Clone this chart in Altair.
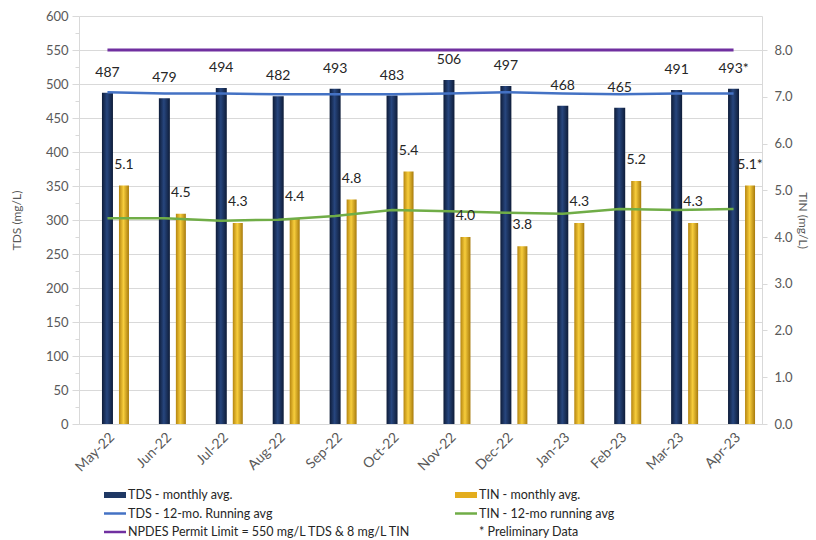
import altair as alt
import pandas as pd

# Monthly TDS / TIN results with 12-month running averages
months = ["May-22", "Jun-22", "Jul-22", "Aug-22", "Sep-22", "Oct-22",
          "Nov-22", "Dec-22", "Jan-23", "Feb-23", "Mar-23", "Apr-23"]
tds_monthly = [487, 479, 494, 482, 493, 483, 506, 497, 468, 465, 491, 493]
tin_monthly = [5.1, 4.5, 4.3, 4.4, 4.8, 5.4, 4.0, 3.8, 4.3, 5.2, 4.3, 5.1]
tds_running = [488, 486, 486, 485, 485, 485, 486, 488, 486, 485, 486, 486]
tin_running = [4.40, 4.40, 4.35, 4.37, 4.45, 4.58, 4.55, 4.52, 4.50, 4.60, 4.58, 4.60]
preliminary = [False] * 11 + [True]
tds_limit = 550
tin_limit = 8.0

df = pd.DataFrame({
    "month": months,
    "tds": tds_monthly,
    "tin": tin_monthly,
    "tds_avg": tds_running,
    "tin_avg": tin_running,
    "limit": [tds_limit] * len(months),
    "tds_label": [f"{v}{'*' if p else ''}" for v, p in zip(tds_monthly, preliminary)],
    "tin_label": [f"{v:.1f}{'*' if p else ''}" for v, p in zip(tin_monthly, preliminary)],
})

FONT = "Lato"
GREY_TXT = "#595959"
GRID = "#d9d9d9"

x_enc = alt.X(
    "month:N", sort=months, title=None,
    scale=alt.Scale(paddingInner=0, paddingOuter=0),
    axis=alt.Axis(labelAngle=-45, labelAlign="right", labelBaseline="top",
                  ticks=False, domainColor=GRID, labelColor=GREY_TXT,
                  labelFontSize=14, labelPadding=6, labelFont=FONT),
)

tds_axis = alt.Axis(
    orient="left", title="TDS (mg/L)",
    values=list(range(0, 601, 25)),
    labelExpr="datum.value % 50 == 0 ? datum.label : ''",
    gridColor=GRID,
    gridOpacity={"condition": {"test": "datum.value % 50 != 0", "value": 0}, "value": 1},
    tickSize={"condition": {"test": "datum.value % 50 != 0", "value": 4}, "value": 7},
    tickColor=GRID, domainColor=GRID,
    labelColor=GREY_TXT, labelFontSize=13, labelPadding=4, labelFont=FONT,
    titleColor=GREY_TXT, titleFontSize=12, titleFontWeight="normal", titleFont=FONT,
    titlePadding=22,
)
tds_scale = alt.Scale(domain=[0, 600], nice=False)
y_tds = alt.Y("tds:Q", scale=tds_scale, axis=tds_axis)

# secondary axis: 8.0 mg/L TIN sits level with the 550 mg/L TDS limit
tin_axis = alt.Axis(
    orient="right", title="TIN (mg/L)", values=[0, 1, 2, 3, 4, 5, 6, 7, 8],
    format=".1f", grid=False, tickSize=5, tickColor=GRID, domainColor=GRID,
    labelColor=GREY_TXT, labelFontSize=13, labelPadding=7, labelFont=FONT,
    titleColor=GREY_TXT, titleFontSize=12, titleFontWeight="normal", titleFont=FONT,
    titlePadding=3,
)
y_tin_scale = alt.Scale(domain=[0, 600 * tin_limit / tds_limit], nice=False)
y_tin = alt.Y("tin:Q", scale=y_tin_scale, axis=tin_axis)

navy_fill = alt.Gradient(
    gradient="linear", x1=0, x2=1, y1=0, y2=0,
    stops=[alt.GradientStop(offset=0, color="#0e1c38"),
           alt.GradientStop(offset=0.45, color="#27467e"),
           alt.GradientStop(offset=1, color="#0e1c38")],
)
gold_fill = alt.Gradient(
    gradient="linear", x1=0, x2=1, y1=0, y2=0,
    stops=[alt.GradientStop(offset=0, color="#b5850f"),
           alt.GradientStop(offset=0.45, color="#f7cd3c"),
           alt.GradientStop(offset=1, color="#a77a0c")],
)

base = alt.Chart(df)
TIN_SHIFT = 16.5

tds_bars = base.mark_bar(width=11, fill=navy_fill).encode(x=x_enc, y=y_tds)
tds_line = base.mark_line(color="#4472c4", strokeWidth=2.5).encode(
    x=x_enc, y=alt.Y("tds_avg:Q", scale=tds_scale, axis=tds_axis))
limit_line = base.mark_line(color="#7030a0", strokeWidth=3).encode(
    x=x_enc, y=alt.Y("limit:Q", scale=tds_scale, axis=tds_axis))
tds_text = base.mark_text(dy=-13, baseline="bottom", fontSize=14, font=FONT,
                          color="#262626").encode(x=x_enc, y=y_tds, text="tds_label:N")

tin_bars = base.mark_bar(width=10, xOffset=TIN_SHIFT, fill=gold_fill).encode(x=x_enc, y=y_tin)
tin_line = base.mark_line(color="#70ad47", strokeWidth=2.5).encode(
    x=x_enc, y=alt.Y("tin_avg:Q", scale=y_tin_scale, axis=tin_axis))
tin_text = base.mark_text(dy=-14, dx=TIN_SHIFT, baseline="bottom", fontSize=14, font=FONT,
                          color="#262626").encode(x=x_enc, y=y_tin, text="tin_label:N")

left = alt.layer(tds_bars, tds_line, limit_line, tds_text)
right = alt.layer(tin_bars, tin_line, tin_text)
main = alt.layer(left, right).resolve_scale(y="independent").properties(width=683, height=408)

# legend block below the plot
leg = pd.DataFrame({
    "label": ["TDS - monthly avg.", "TIN - monthly avg.",
              "TDS - 12-mo. Running avg", "TIN - 12-mo running avg",
              "NPDES Permit Limit = 550 mg/L TDS & 8 mg/L TIN", "* Preliminary Data"],
    "col": [0, 1, 0, 1, 0, 1],
    "row": [0, 0, 1, 1, 2, 2],
    "kind": ["bar", "bar", "line", "line", "line", "note"],
})
leg_colors = alt.Scale(
    domain=list(leg["label"]),
    range=["#1f3864", "#e3ad1e", "#4472c4", "#70ad47", "#7030a0", "#ffffff"],
)
lx = alt.X("col:Q", scale=alt.Scale(domain=[0, 1], range=[25, 376]), axis=None)
ly = alt.Y("row:Q", scale=alt.Scale(domain=[0, 2], range=[0, 37]), axis=None)
lbase = alt.Chart(leg)
swatch_bar = lbase.transform_filter("datum.kind == 'bar'").mark_rule(
    strokeWidth=6, x2Offset=22).encode(
    x=lx, x2="col:Q", y=ly, color=alt.Color("label:N", scale=leg_colors, legend=None))
swatch_line = lbase.transform_filter("datum.kind == 'line'").mark_rule(
    strokeWidth=2.5, x2Offset=22).encode(
    x=lx, x2="col:Q", y=ly, color=alt.Color("label:N", scale=leg_colors, legend=None))
leg_text = lbase.mark_text(align="left", baseline="middle", dx=24, fontSize=12.5,
                           font=FONT, color="#262626").encode(x=lx, y=ly, text="label:N")
legend_block = alt.layer(swatch_bar, swatch_line, leg_text).properties(width=683, height=37)

chart = alt.vconcat(main, legend_block, spacing=14).properties(
    padding={"left": 10, "top": 10, "right": 5, "bottom": 0},
    background="white",
).configure(font=FONT).configure_view(stroke=None)

chart.save("out.html", embed_options={"renderer": "svg", "actions": False})
